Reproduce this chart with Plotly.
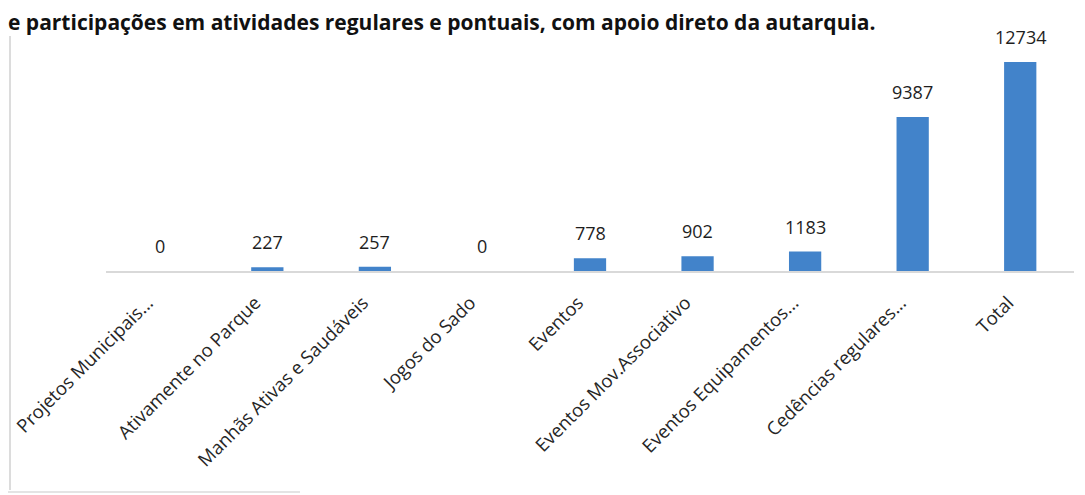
import plotly.graph_objects as go

categories = ["Projetos Municipais...", "Ativamente no Parque", "Manhãs Ativas e Saudáveis",
              "Jogos do Sado", "Eventos", "Eventos Mov.Associativo", "Eventos Equipamentos...",
              "Cedências regulares...", "Total"]
values = [0, 227, 257, 0, 778, 902, 1183, 9387, 12734]
title_text = "e participações em atividades regulares e pontuais, com apoio direto da autarquia."

# page body has an 8px margin: figure pixel = screen pixel - 8
OFF = 8
W, H = 1085 - OFF, 495 - OFF
L, R, T, B = 106 - OFF, 11, 40 - OFF, 224
PW, PH = W - L - R, H - T - B

def px(x):  # screen x -> paper
    return (x - OFF - L) / PW

def py(y):  # screen y -> paper
    return (H - B - (y - OFF)) / PH

fig = go.Figure(go.Bar(x=categories, y=values, marker_color="#4283CA", width=0.3,
                       marker_line_width=0, hoverinfo="skip"))

for c, v in zip(categories, values):
    fig.add_annotation(x=c, y=v, text=str(v), showarrow=False, yanchor="bottom", yshift=11,
                       font=dict(family="Open Sans", size=18, color="#1e1e1e"))

fig.add_annotation(xref="paper", yref="paper", x=px(6), y=py(6), xanchor="left",
                   yanchor="top", text="<b>" + title_text + "</b>",
                   showarrow=False, font=dict(family="Open Sans", size=21, color="#111111"))

# scanned frame edges
fig.add_shape(type="line", xref="paper", yref="paper", x0=px(10), x1=px(10),
              y0=py(36), y1=py(490), line=dict(color="#dcdcdc", width=2))
fig.add_shape(type="line", xref="paper", yref="paper", x0=px(8), x1=px(300),
              y0=py(492), y1=py(492), line=dict(color="#e4e4e4", width=2))

fig.update_layout(
    width=W, height=H, margin=dict(l=L, r=R, t=T, b=B, autoexpand=False),
    paper_bgcolor="white", plot_bgcolor="white", showlegend=False,
    xaxis=dict(tickangle=-45, showline=True, linecolor="#d9d9d9", linewidth=1.5,
               ticks="", tickfont=dict(family="Open Sans", size=18.5, color="#262626"),
               ticklabelstandoff=12, ticklabelshift=-12,
               showgrid=False, fixedrange=True, automargin=False),
    yaxis=dict(range=[0, 14074], visible=False, showgrid=False, fixedrange=True),
)
fig.write_html("out.html")
